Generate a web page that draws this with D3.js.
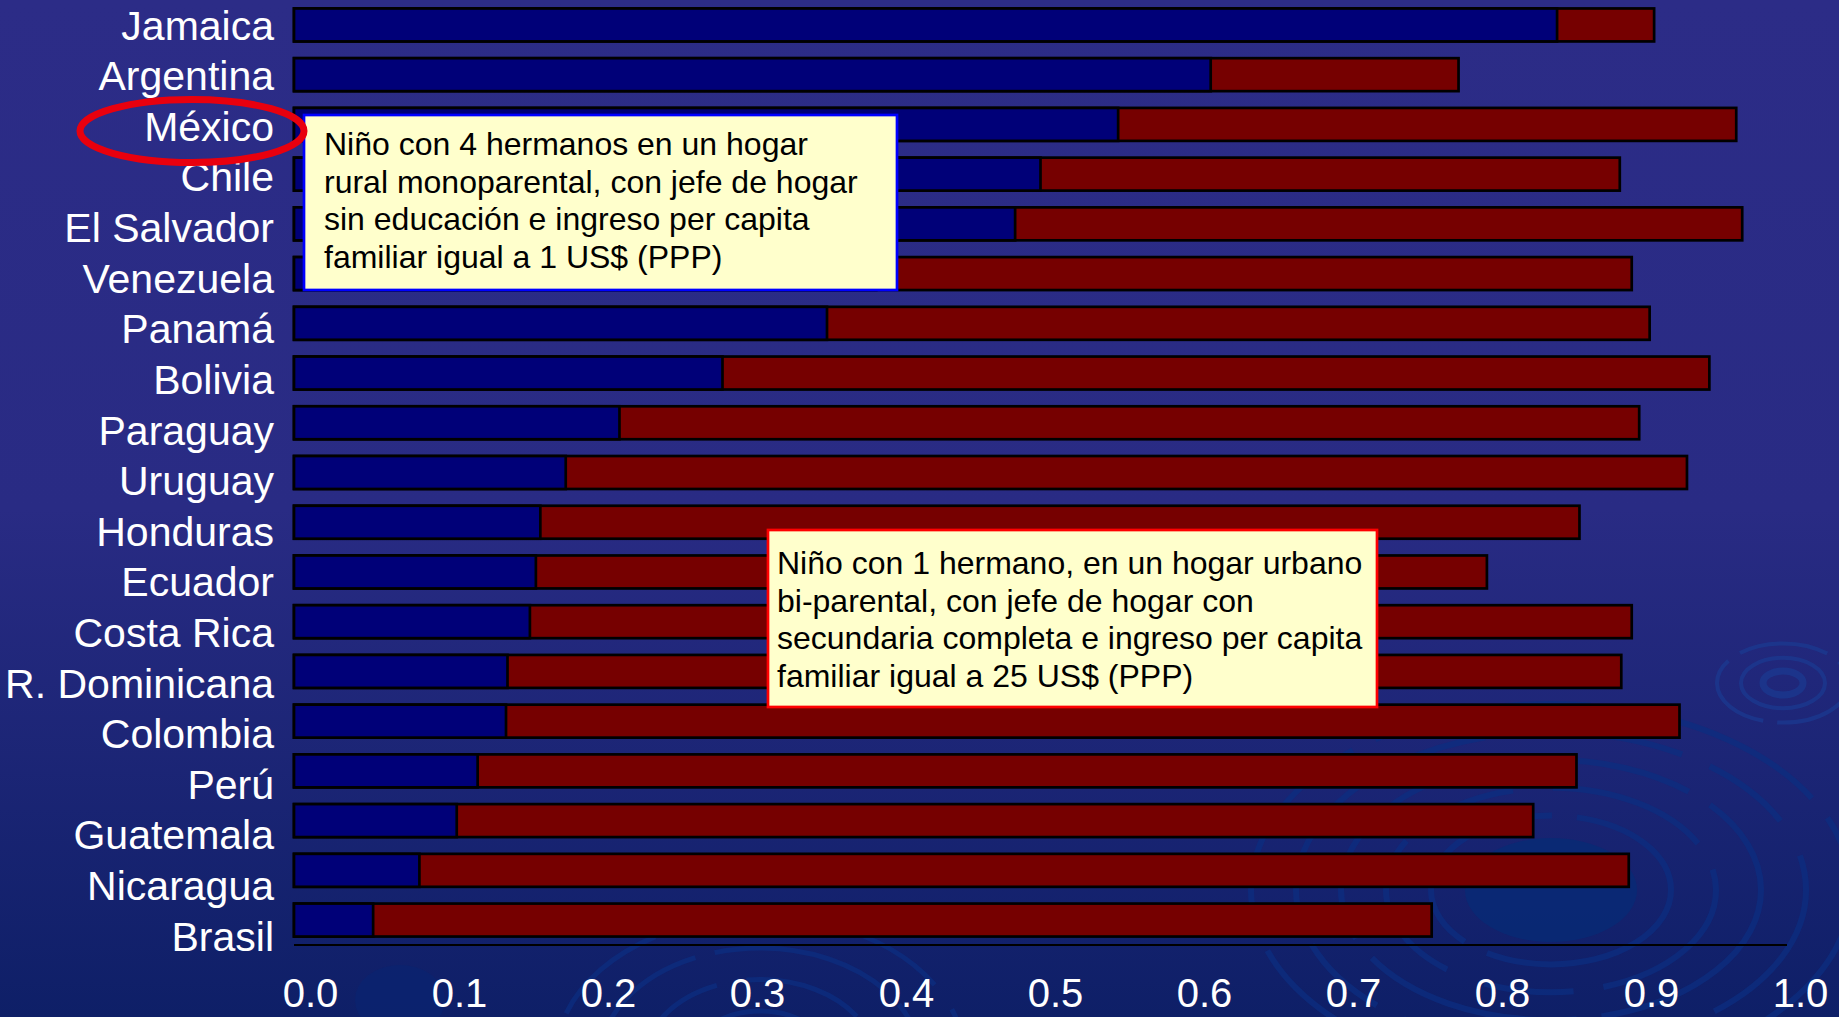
<!DOCTYPE html>
<html>
<head>
<meta charset="utf-8">
<script src="https://cdn.jsdelivr.net/npm/d3@7"></script>
<style>
  html, body { margin: 0; padding: 0; overflow: hidden; background: #2b2c86; }
  svg { display: block; }
</style>
</head>
<body>
<div id="chart"></div>
<script>
// países, de mayor a menor probabilidad del niño desfavorecido
const countries = ["Jamaica", "Argentina", "México", "Chile", "El Salvador", "Venezuela", "Panamá",
  "Bolivia", "Paraguay", "Uruguay", "Honduras", "Ecuador", "Costa Rica", "R. Dominicana",
  "Colombia", "Perú", "Guatemala", "Nicaragua", "Brasil"];
// niño rural, monoparental, 1 US$ (barra azul)
const probLow = [0.846, 0.614, 0.552, 0.500, 0.483, 0.390, 0.357,
  0.287, 0.218, 0.182, 0.165, 0.162, 0.158, 0.143,
  0.142, 0.123, 0.109, 0.084, 0.053];
// niño urbano, bi-parental, 25 US$ (barra roja)
const probHigh = [0.911, 0.780, 0.966, 0.888, 0.970, 0.896, 0.908,
  0.948, 0.901, 0.933, 0.861, 0.799, 0.896, 0.889,
  0.928, 0.859, 0.830, 0.894, 0.762];
const tickValues = [0, 0.1, 0.2, 0.3, 0.4, 0.5, 0.6, 0.7, 0.8, 0.9, 1.0];
const tickLabels = ["0.0", "0.1", "0.2", "0.3", "0.4", "0.5", "0.6", "0.7", "0.8", "0.9", "1.0"];

const noteLow = ["Niño con 4 hermanos en un hogar", "rural monoparental, con jefe de hogar",
  "sin educación e ingreso per capita", "familiar igual a 1 US$ (PPP)"];
const noteHigh = ["Niño con 1 hermano, en un hogar urbano", "bi-parental, con jefe de hogar con",
  "secundaria completa e ingreso per capita", "familiar igual a 25 US$ (PPP)"];

const width = 1839, height = 1017;
const font = "Arial, 'Liberation Sans', sans-serif";

const svg = d3.select("#chart").append("svg").attr("width", width).attr("height", height);

// fondo degradado
const defs = svg.append("defs");
const grad = defs.append("linearGradient").attr("id", "bg").attr("x1", 0).attr("y1", 0).attr("x2", 0).attr("y2", 1);
grad.append("stop").attr("offset", "0%").attr("stop-color", "#2c2c87");
grad.append("stop").attr("offset", "50%").attr("stop-color", "#292b84");
grad.append("stop").attr("offset", "100%").attr("stop-color", "#0e1f67");
svg.append("rect").attr("width", width).attr("height", height).attr("fill", "url(#bg)");

// ondas decorativas del fondo
const deco = svg.append("g").attr("fill", "none").attr("stroke", "#0c2d80").attr("stroke-opacity", 0.75);
deco.append("ellipse").attr("cx", 1551).attr("cy", 890).attr("rx", 86).attr("ry", 52)
  .attr("fill", "#082a76").attr("stroke", "none").attr("opacity", 0.8);
[120, 165, 210, 255, 300].forEach((r, i) => {
  deco.append("ellipse").attr("cx", 1551).attr("cy", 890).attr("rx", r).attr("ry", r * 0.62)
    .attr("stroke-width", 6).attr("stroke-dasharray", i % 2 ? "160 30 90 40" : "220 25");
});
[20, 42, 66].forEach((r, i) => {
  deco.append("ellipse").attr("cx", 1783).attr("cy", 683).attr("rx", r).attr("ry", r * 0.6)
    .attr("stroke", "#1b3a90").attr("stroke-width", i === 0 ? 7 : 4).attr("stroke-dasharray", i === 2 ? "90 14" : null);
});
[70, 115, 160, 205].forEach((r, i) => {
  deco.append("ellipse").attr("cx", 760).attr("cy", 1060).attr("rx", r).attr("ry", r * 0.7)
    .attr("stroke-width", 5).attr("stroke-dasharray", i % 2 ? "120 30" : "180 20");
});
deco.append("ellipse").attr("cx", 400).attr("cy", 1000).attr("rx", 45).attr("ry", 35)
  .attr("fill", "#0a2470").attr("stroke", "none").attr("opacity", 0.7);

// escalas
const x = d3.scaleLinear().domain([0, 1]).range([294, 1787]);
const y = d3.scaleBand().domain(countries).range([0, 945]).paddingInner(0.337).paddingOuter(0.17);
// las etiquetas de la diapositiva están algo más espaciadas que las barras
const yLabel = d3.scalePoint().domain(countries).range([26, 937]);
const xLabel = d3.scaleLinear().domain([0, 1]).range([310, 1800]);

const rows = countries.map((c, i) => ({ country: c, low: probLow[i], high: probHigh[i] }));

const bars = svg.append("g").attr("stroke", "#000").attr("stroke-width", 2.7);
bars.selectAll("rect.high").data(rows).join("rect").attr("class", "high")
  .attr("x", x(0)).attr("y", d => y(d.country))
  .attr("width", d => x(d.high) - x(0)).attr("height", y.bandwidth())
  .attr("fill", "#760000");
bars.selectAll("rect.low").data(rows).join("rect").attr("class", "low")
  .attr("x", x(0)).attr("y", d => y(d.country))
  .attr("width", d => x(d.low) - x(0)).attr("height", y.bandwidth())
  .attr("fill", "#000078");

// línea del eje
svg.append("line").attr("x1", x(0)).attr("x2", x(1)).attr("y1", 945).attr("y2", 945)
  .attr("stroke", "#000").attr("stroke-width", 2);

// etiquetas del eje X
const xAxis = d3.axisBottom(xLabel).tickValues(tickValues).tickSize(0).tickPadding(34)
  .tickFormat((d, i) => tickLabels[i]);
const gx = svg.append("g").attr("transform", "translate(0,945)").call(xAxis);
gx.select(".domain").remove();
gx.selectAll("text").attr("fill", "#fff").attr("font-family", font).attr("font-size", 40);

// etiquetas de países
const yAxis = d3.axisLeft(yLabel).tickSize(0).tickPadding(0);
const gy = svg.append("g").attr("transform", "translate(274,0)").call(yAxis);
gy.select(".domain").remove();
gy.selectAll("text").attr("fill", "#fff").attr("font-family", font).attr("font-size", 41);

// cuadros de texto
function note(x0, y0, w, h, border, lines, tx, firstBase) {
  const g = svg.append("g");
  g.append("rect").attr("x", x0).attr("y", y0).attr("width", w).attr("height", h)
    .attr("fill", "#ffffcc").attr("stroke", border).attr("stroke-width", 2.7);
  g.selectAll("text").data(lines).join("text")
    .attr("x", tx).attr("y", (d, i) => firstBase + i * 37.6)
    .attr("font-family", font).attr("font-size", 32).attr("fill", "#000")
    .text(d => d);
}
note(304, 115, 593, 175, "#0000ff", noteLow, 324, 155);
note(768, 530, 609, 177, "#ff0000", noteHigh, 777, 574);

// círculo rojo sobre México
svg.append("ellipse").attr("cx", 192).attr("cy", 131).attr("rx", 112).attr("ry", 31.5)
  .attr("fill", "none").attr("stroke", "#e8000e").attr("stroke-width", 7);
</script>
</body>
</html>
